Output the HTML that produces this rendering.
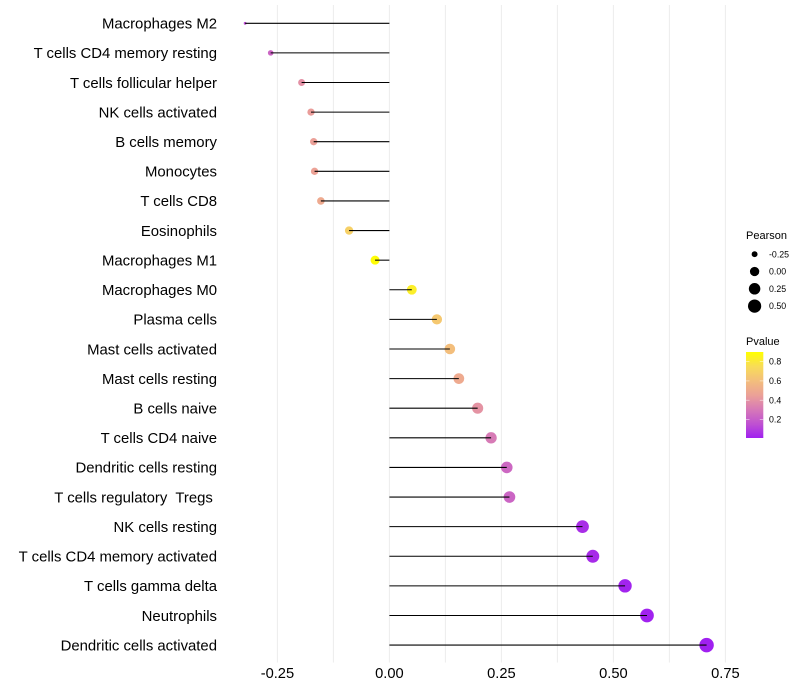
<!DOCTYPE html>
<html>
<head>
<meta charset="utf-8">
<title>Immune cell correlation lollipop chart</title>
<style>
html,body{margin:0;padding:0;background:#fff;}
svg{display:block;font-family:"Liberation Sans",sans-serif;}
text{white-space:pre;}
</style>
</head>
<body>
<svg id="chart" width="800" height="700" viewBox="0 0 800 700" xmlns="http://www.w3.org/2000/svg">
<defs>
<linearGradient id="pvalue-gradient" x1="0" y1="1" x2="0" y2="0"></linearGradient>
</defs>
<g id="grid"></g>
<g id="series"></g>
<g id="ylabels"></g>
<g id="xlabels"></g>
<g id="size-legend"></g>
<g id="color-legend"></g>
</svg>
<script>
const categories = ["Macrophages M2","T cells CD4 memory resting","T cells follicular helper","NK cells activated","B cells memory","Monocytes","T cells CD8","Eosinophils","Macrophages M1","Macrophages M0","Plasma cells","Mast cells activated","Mast cells resting","B cells naive","T cells CD4 naive","Dendritic cells resting","T cells regulatory  Tregs ","NK cells resting","T cells CD4 memory activated","T cells gamma delta","Neutrophils","Dendritic cells activated"];
const pearson = [-0.322,-0.265,-0.196,-0.175,-0.169,-0.167,-0.153,-0.09,-0.032,0.05,0.106,0.135,0.155,0.197,0.227,0.262,0.268,0.431,0.454,0.526,0.575,0.708];
const pvalue = [0.14,0.23,0.39,0.44,0.45,0.46,0.5,0.69,0.89,0.83,0.65,0.6,0.5,0.4,0.31,0.24,0.23,0.045,0.034,0.012,0.006,0.001];
const xTicks = [-0.25,0,0.25,0.5,0.75];
const xTickLabels = ["-0.25","0.00","0.25","0.50","0.75"];
const xMinorTicks = [-0.125,0.125,0.375,0.625];
const sizeLegendValues = [-0.25,0,0.25,0.5];
const sizeLegendLabels = ["-0.25","0.00","0.25","0.50"];
const pTicks = [0.8,0.6,0.4,0.2];
const pTickLabels = ["0.8","0.6","0.4","0.2"];
const colorStopP = [0,0.15,0.3,0.45,0.6,0.75,0.9];
const colorStopHex = ["#A020F0","#BE50D2","#D678B8","#EBA098","#F3BE7C","#F8DC58","#FFFF00"];

const NS = "http://www.w3.org/2000/svg";
function make(tag, attrs, parent, txt){
  const e = document.createElementNS(NS, tag);
  for (const k in attrs) e.setAttribute(k, attrs[k]);
  if (txt !== undefined) e.textContent = txt;
  parent.appendChild(e);
  return e;
}
function xScale(v){ return 389.4 + v * 448; }
function yScale(i){ return 23.28 + i * (621.81 / (categories.length - 1)); }
const minP = Math.min(...pearson), maxP = Math.max(...pearson);
function diameter(v){ return 2.85 + 11.6 * Math.sqrt((v - minP) / (maxP - minP)); }
function hexToRgb(h){ return [1,3,5].map(i => parseInt(h.substr(i,2),16)); }
function pColor(p){
  let i = 0;
  while (i < colorStopP.length - 2 && p > colorStopP[i+1]) i++;
  const t = Math.max(0, Math.min(1, (p - colorStopP[i]) / (colorStopP[i+1] - colorStopP[i])));
  const a = hexToRgb(colorStopHex[i]), b = hexToRgb(colorStopHex[i+1]);
  return "rgb(" + a.map((c,j) => Math.round(c + (b[j]-c)*t)).join(",") + ")";
}
function barY(p){ return 438 - (p - 0.008) * (86 / 0.892); }

const grid = document.getElementById("grid");
xTicks.concat(xMinorTicks).forEach(function(t){
  const l = make("line", {x1:xScale(t), x2:xScale(t), y1:5, y2:662.5, stroke:"#ececec", "stroke-width":1}, grid);
  
  
});

const series = document.getElementById("series");
const ylabels = document.getElementById("ylabels");
categories.forEach(function(c, i){
  const y = yScale(i), x = xScale(pearson[i]);
  const dot = make("circle", {cx:x, cy:y, r:diameter(pearson[i])/2, fill:pColor(pvalue[i])}, series);
  
  
  const seg = make("line", {x1:xScale(0), x2:x, y1:y, y2:y, stroke:"#000", "stroke-width":1.07}, series);
  
  
  const lab = make("text", {x:217, y:y+5.3, "text-anchor":"end", "font-size":14.9, fill:"#000"}, ylabels, c);
  
  
});

const xlabels = document.getElementById("xlabels");
xTicks.forEach(function(t, i){
  const lab = make("text", {x:xScale(t), y:678, "text-anchor":"middle", "font-size":14.67, fill:"#000"}, xlabels, xTickLabels[i]);
  
  
});

const sizeLegend = document.getElementById("size-legend");
const sizeTitle = make("text", {x:746, y:239, "font-size":11, fill:"#000"}, sizeLegend, "Pearson");


sizeLegendValues.forEach(function(v, i){
  const y = 254.2 + i * 17.3;
  const dot = make("circle", {cx:754.6, cy:y, r:diameter(v)/2, fill:"#000"}, sizeLegend);
  
  
  const lab = make("text", {x:769, y:y+3.1, "font-size":8.8, fill:"#000"}, sizeLegend, sizeLegendLabels[i]);
  
  
});

const grad = document.getElementById("pvalue-gradient");
colorStopP.forEach(function(p, i){
  make("stop", {offset:Math.max(0, (barY(0.008)-barY(p))/86), "stop-color":colorStopHex[i]}, grad);
});
const colorLegend = document.getElementById("color-legend");
const colorTitle = make("text", {x:746, y:345, "font-size":11, fill:"#000"}, colorLegend, "Pvalue");


const bar = make("rect", {x:746, y:352, width:17.3, height:86, fill:"url(#pvalue-gradient)"}, colorLegend);


pTicks.forEach(function(p, i){
  const y = barY(p);
  const t1 = make("line", {x1:746, x2:749.5, y1:y, y2:y, stroke:"#fff", "stroke-width":0.6, "stroke-opacity":0.8}, colorLegend);
  
  
  const t2 = make("line", {x1:759.8, x2:763.3, y1:y, y2:y, stroke:"#fff", "stroke-width":0.6, "stroke-opacity":0.8}, colorLegend);
  
  
  const lab = make("text", {x:769, y:y+3.1, "font-size":8.8, fill:"#000"}, colorLegend, pTickLabels[i]);
  
  
});
</script>
</body>
</html>
